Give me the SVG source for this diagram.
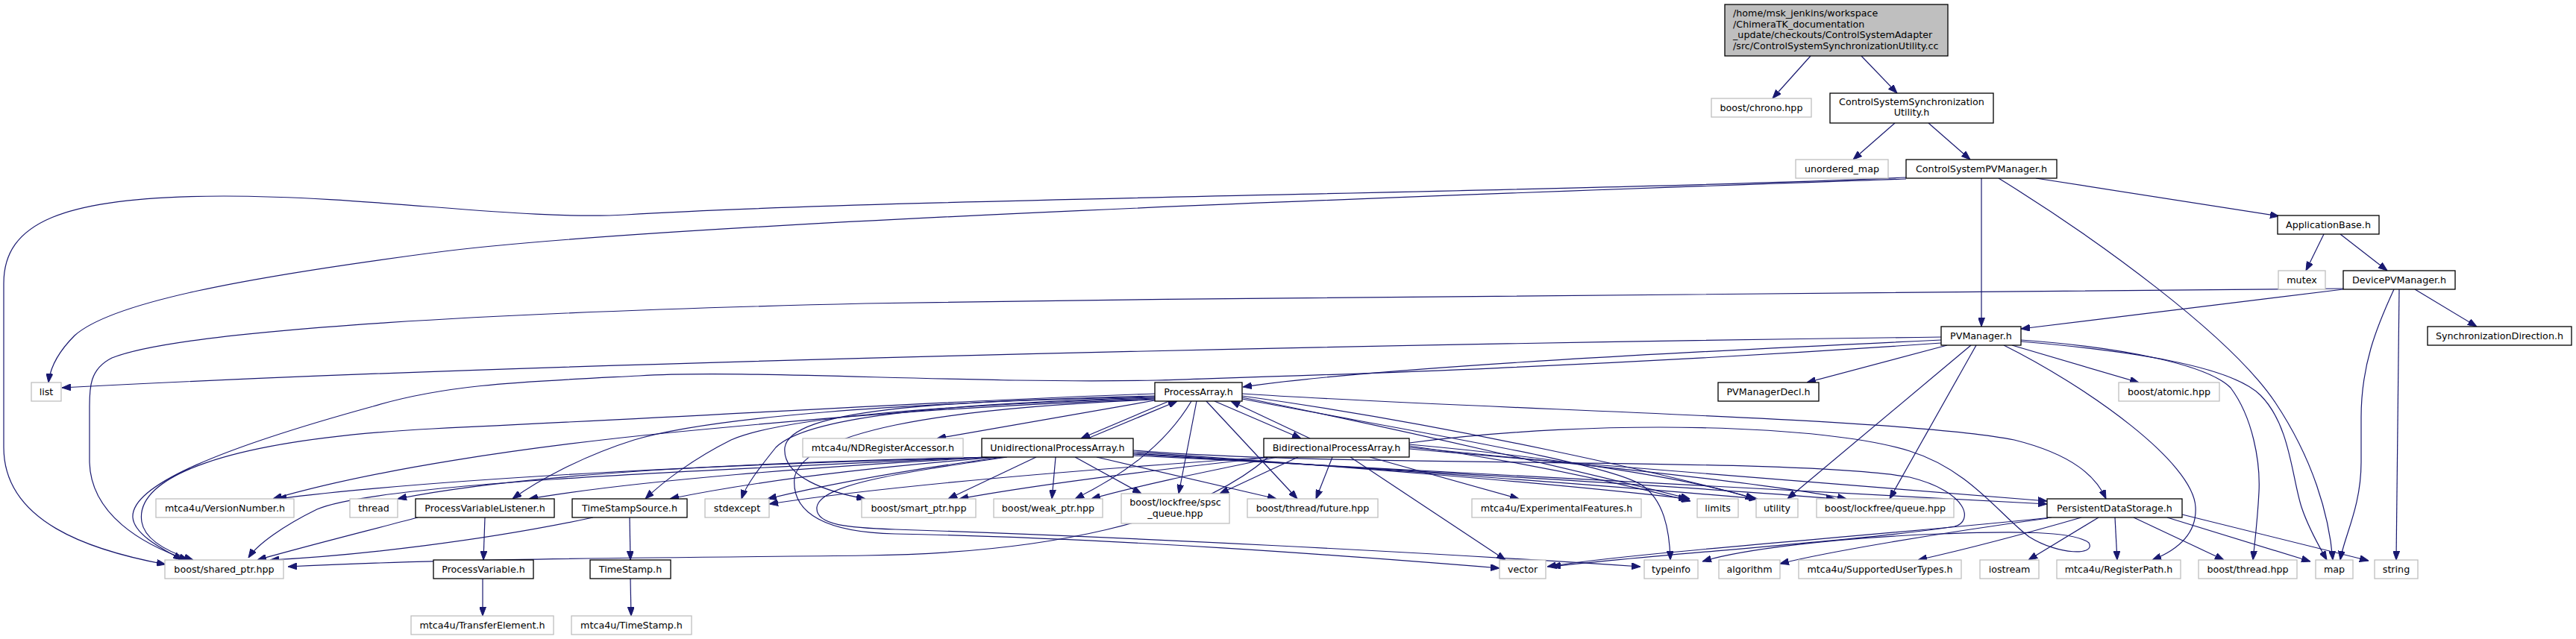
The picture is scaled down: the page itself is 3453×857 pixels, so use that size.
<svg xmlns="http://www.w3.org/2000/svg" width="3453" height="857" viewBox="0 0 3453 857">
<defs>
<marker id="a" viewBox="0 0 12 9" refX="12" refY="4.5" markerWidth="12" markerHeight="9" markerUnits="userSpaceOnUse" orient="auto"><path d="M0,0L12,4.5L0,9z" fill="#191970" stroke="#191970" stroke-width="1"/></marker>
<style>
rect.n{fill:#fff;stroke:#000;stroke-width:1.3}
rect.x{fill:#fff;stroke:#bfbfbf;stroke-width:1.3}
rect.r{fill:#bfbfbf;stroke:#000;stroke-width:1.3}
text{font-family:"DejaVu Sans","Liberation Sans",sans-serif;font-size:12.7px;fill:#000;text-anchor:middle}
text.l{text-anchor:start}
#edges path{fill:none;stroke:#191970;stroke-width:1.2;marker-end:url(#a)}
</style>
</defs>
<rect width="3453" height="857" fill="#fff"/>
<g id="edges">
<path d="M2427,75 L2376,132"/>
<path d="M2495,75 L2543,125"/>
<path d="M2540,165 L2484,214"/>
<path d="M2585,165 L2641,214"/>
<path d="M2656,239 L2656,438"/>
<path d="M2729,239 L3055,290"/>
<path d="M2679,239 C2810,320 2990,450 3050,540 C3100,615 3122,690 3127,751"/>
<path d="M2555,240 C2100,256 900,296 580,339 C330,372 150,405 100,450 C76,474 67,495 65,513"/>
<path d="M2555,238 C2100,258 1200,266 839,288 C700,296 500,263 300,263 C80,263 5,300 5,380 L5,600 C5,700 120,738 222,757"/>
<path d="M3115,314 L3091,363"/>
<path d="M3137,314 L3200,363"/>
<path d="M3237,388 L3320,438"/>
<path d="M3216,388 L3212,751"/>
<path d="M3209,388 C3185,440 3165,490 3165,560 L3165,620 C3165,680 3142,720 3137,751"/>
<path d="M3141,388 L2709,441"/>
<path d="M3141,387 C3000,392 2000,393 1160,407 C700,418 250,440 150,480 C120,495 120,520 120,545 L120,620 C122,690 190,730 252,751"/>
<path d="M2610,463 L2422,513"/>
<path d="M2697,463 L2867,513"/>
<path d="M2642,463 L2396,669"/>
<path d="M2649,463 L2533,669"/>
<path d="M2686,463 C2800,520 2940,620 2943,680 C2945,715 2920,737 2885,751"/>
<path d="M2709,458 C2850,470 2990,490 3030,530 C3070,570 3072,640 3085,680 C3095,710 3110,735 3119,751"/>
<path d="M2709,456 C2850,466 2960,490 2990,520 C3020,560 3030,620 3028,660 C3026,700 3022,730 3020,751"/>
<path d="M2602,456 C2300,470 1850,492 1666,519"/>
<path d="M2602,452 C1800,462 700,487 83,520"/>
<path d="M2602,460 C2100,495 1700,505 1550,510 C1300,515 1000,495 857,504 C700,512 600,515 500,545 C300,600 175,650 178,694 C180,720 230,742 244,751"/>
<path d="M1548,537 L1256,588"/>
<path d="M1567,538 L1449,588"/>
<path d="M1458,588 L1578,538"/>
<path d="M1628,538 L1744,588"/>
<path d="M1756,588 L1650,538"/>
<path d="M1597,538 C1560,600 1500,640 1441,669"/>
<path d="M1604,538 L1580,662"/>
<path d="M1617,538 L1739,669"/>
<path d="M1548,531 C1250,538 1060,550 1052,600 C1048,640 1110,660 1160,669"/>
<path d="M1548,533 C1250,542 1080,560 1040,600 C1020,625 1000,650 994,669"/>
<path d="M1548,534 C1250,544 1050,560 980,590 C930,615 890,645 865,669"/>
<path d="M1548,532 C1200,540 950,560 850,590 C780,612 720,645 687,669"/>
<path d="M1548,535 C1300,545 1160,555 900,580 C700,600 500,630 366,669"/>
<path d="M1548,528 C1300,536 1000,555 580,575 C300,590 180,640 190,700 C195,730 240,745 259,751"/>
<path d="M1665,533 C1900,580 2150,640 2265,669"/>
<path d="M1665,531 C1950,570 2250,640 2353,669"/>
<path d="M1665,528 C2000,550 2550,560 2700,590 C2780,610 2810,640 2823,669"/>
<path d="M1665,535 C1900,580 2150,620 2200,650 C2230,670 2238,710 2239,751"/>
<path d="M1548,536 C1250,548 1080,580 1065,640 C1060,690 1110,714 1200,716 C1500,722 1800,745 2010,762"/>
<path d="M1389,613 L1271,669"/>
<path d="M1415,613 L1410,669"/>
<path d="M1441,613 L1530,662"/>
<path d="M1470,613 L1711,669"/>
<path d="M1330,613 C1000,622 600,640 372,669"/>
<path d="M1328,613 C1000,620 700,635 533,669"/>
<path d="M1335,613 C1100,625 850,645 709,669"/>
<path d="M1340,613 C1150,628 1000,648 898,669"/>
<path d="M1345,613 C1200,632 1100,652 1029,669"/>
<path d="M1325,613 C900,632 500,650 425,683 C380,705 345,730 333,748"/>
<path d="M1350,613 C1200,635 1100,650 1095,680 C1092,705 1140,708 1200,710 C1500,720 1900,740 2199,760"/>
<path d="M1519,606 C1800,625 2100,650 2262,669"/>
<path d="M1519,608 C1850,628 2200,655 2356,669"/>
<path d="M1519,609 C1900,632 2300,655 2460,669"/>
<path d="M1519,611 C2000,634 2500,660 2744,676"/>
<path d="M1519,604 C1800,628 2400,612 2560,640 C2640,660 2645,700 2620,706 C2500,725 2200,745 2080,760"/>
<path d="M1705,613 C1550,630 1400,648 1286,669"/>
<path d="M1712,613 C1620,632 1530,650 1463,669"/>
<path d="M1740,613 L1635,662"/>
<path d="M1786,613 L1764,669"/>
<path d="M1836,613 L2036,669"/>
<path d="M1810,613 L2018,751"/>
<path d="M1700,613 C1450,630 1200,650 1031,676"/>
<path d="M1889,598 C2050,620 2180,650 2266,672"/>
<path d="M1889,596 C2100,615 2280,645 2352,669"/>
<path d="M1889,600 C2150,625 2380,650 2475,669"/>
<path d="M1889,602 C2200,630 2550,655 2744,672"/>
<path d="M1889,594 C2150,560 2450,570 2560,605 C2640,630 2680,690 2720,720 C2760,745 2810,745 2800,728 C2780,712 2700,712 2600,716 C2450,722 2330,738 2282,753"/>
<path d="M1700,613 C1600,700 1400,742 1160,745 C900,748 600,749 386,760"/>
<path d="M650,694 L648,751"/>
<path d="M844,694 L845,751"/>
<path d="M647,776 L647,826"/>
<path d="M845,776 L846,826"/>
<path d="M560,694 C480,715 400,735 345,751"/>
<path d="M795,694 C650,725 480,745 362,751"/>
<path d="M2745,695 C2600,715 2450,740 2386,756"/>
<path d="M2750,694 C2500,720 2200,740 2074,760"/>
<path d="M2790,694 C2700,720 2620,740 2571,751"/>
<path d="M2813,694 L2719,751"/>
<path d="M2835,694 L2838,751"/>
<path d="M2860,694 L2981,751"/>
<path d="M2905,694 L3097,753"/>
<path d="M2925,690 L3175,752"/>
</g>
<g id="root"><rect class="r" x="2312" y="6" width="299" height="69"/><text class="l" x="2323" y="22">/home/msk_jenkins/workspace</text><text class="l" x="2323" y="37">/ChimeraTK_documentation</text><text class="l" x="2323" y="51">_update/checkouts/ControlSystemAdapter</text><text class="l" x="2323" y="66">/src/ControlSystemSynchronizationUtility.cc</text></g>
<g id="n_chrono"><rect class="x" x="2294" y="132" width="134" height="25"/><text x="2361" y="149">boost/chrono.hpp</text></g>
<g id="n_cssu"><rect class="n" x="2453" y="125" width="219" height="40"/><text x="2562.5" y="141">ControlSystemSynchronization</text><text x="2562.5" y="155">Utility.h</text></g>
<g id="n_umap"><rect class="x" x="2407" y="214" width="124" height="25"/><text x="2469" y="231">unordered_map</text></g>
<g id="n_cspvm"><rect class="n" x="2555" y="214" width="202" height="25"/><text x="2656" y="231">ControlSystemPVManager.h</text></g>
<g id="n_appbase"><rect class="n" x="3053" y="289" width="136" height="25"/><text x="3121" y="306">ApplicationBase.h</text></g>
<g id="n_mutex"><rect class="x" x="3054" y="363" width="63" height="25"/><text x="3085.5" y="380">mutex</text></g>
<g id="n_dpvm"><rect class="n" x="3141" y="363" width="150" height="25"/><text x="3216" y="380">DevicePVManager.h</text></g>
<g id="n_syncdir"><rect class="n" x="3254" y="438" width="193" height="25"/><text x="3350.5" y="455">SynchronizationDirection.h</text></g>
<g id="n_pvm"><rect class="n" x="2602" y="438" width="107" height="25"/><text x="2655.5" y="455">PVManager.h</text></g>
<g id="n_pvmdecl"><rect class="n" x="2303" y="513" width="135" height="25"/><text x="2370.5" y="530">PVManagerDecl.h</text></g>
<g id="n_atomic"><rect class="x" x="2840" y="513" width="135" height="25"/><text x="2907.5" y="530">boost/atomic.hpp</text></g>
<g id="n_list"><rect class="x" x="42" y="513" width="40" height="25"/><text x="62" y="530">list</text></g>
<g id="n_pa"><rect class="n" x="1548" y="513" width="117" height="25"/><text x="1606.5" y="530">ProcessArray.h</text></g>
<g id="n_ndra"><rect class="x" x="1076" y="588" width="215" height="25"/><text x="1183.5" y="605">mtca4u/NDRegisterAccessor.h</text></g>
<g id="n_upa"><rect class="n" x="1316" y="588" width="203" height="25"/><text x="1417.5" y="605">UnidirectionalProcessArray.h</text></g>
<g id="n_bpa"><rect class="n" x="1694" y="588" width="195" height="25"/><text x="1791.5" y="605">BidirectionalProcessArray.h</text></g>
<g id="n_vn"><rect class="x" x="209" y="669" width="185" height="25"/><text x="301.5" y="686">mtca4u/VersionNumber.h</text></g>
<g id="n_thread"><rect class="x" x="469" y="669" width="64" height="25"/><text x="501" y="686">thread</text></g>
<g id="n_pvl"><rect class="n" x="557" y="669" width="186" height="25"/><text x="650" y="686">ProcessVariableListener.h</text></g>
<g id="n_tss"><rect class="n" x="767" y="669" width="154" height="25"/><text x="844" y="686">TimeStampSource.h</text></g>
<g id="n_stdexcept"><rect class="x" x="945" y="669" width="86" height="25"/><text x="988" y="686">stdexcept</text></g>
<g id="n_smartptr"><rect class="x" x="1155" y="669" width="153" height="25"/><text x="1231.5" y="686">boost/smart_ptr.hpp</text></g>
<g id="n_weakptr"><rect class="x" x="1332" y="669" width="146" height="25"/><text x="1405" y="686">boost/weak_ptr.hpp</text></g>
<g id="n_spsc"><rect class="x" x="1503" y="662" width="145" height="40"/><text x="1575.5" y="678">boost/lockfree/spsc</text><text x="1575.5" y="693">_queue.hpp</text></g>
<g id="n_future"><rect class="x" x="1672" y="669" width="175" height="25"/><text x="1759.5" y="686">boost/thread/future.hpp</text></g>
<g id="n_expf"><rect class="x" x="1973" y="669" width="227" height="25"/><text x="2086.5" y="686">mtca4u/ExperimentalFeatures.h</text></g>
<g id="n_limits"><rect class="x" x="2275" y="669" width="55" height="25"/><text x="2302.5" y="686">limits</text></g>
<g id="n_utility"><rect class="x" x="2354" y="669" width="56" height="25"/><text x="2382" y="686">utility</text></g>
<g id="n_lfqueue"><rect class="x" x="2435" y="669" width="184" height="25"/><text x="2527" y="686">boost/lockfree/queue.hpp</text></g>
<g id="n_pds"><rect class="n" x="2744" y="669" width="181" height="25"/><text x="2834.5" y="686">PersistentDataStorage.h</text></g>
<g id="n_sharedptr"><rect class="x" x="221" y="751" width="159" height="25"/><text x="300.5" y="768">boost/shared_ptr.hpp</text></g>
<g id="n_pv"><rect class="n" x="581" y="751" width="134" height="25"/><text x="648" y="768">ProcessVariable.h</text></g>
<g id="n_ts"><rect class="n" x="791" y="751" width="108" height="25"/><text x="845" y="768">TimeStamp.h</text></g>
<g id="n_vector"><rect class="x" x="2010" y="751" width="62" height="25"/><text x="2041" y="768">vector</text></g>
<g id="n_typeinfo"><rect class="x" x="2204" y="751" width="72" height="25"/><text x="2240" y="768">typeinfo</text></g>
<g id="n_algorithm"><rect class="x" x="2304" y="751" width="82" height="25"/><text x="2345" y="768">algorithm</text></g>
<g id="n_sut"><rect class="x" x="2411" y="751" width="218" height="25"/><text x="2520" y="768">mtca4u/SupportedUserTypes.h</text></g>
<g id="n_iostream"><rect class="x" x="2654" y="751" width="79" height="25"/><text x="2693.5" y="768">iostream</text></g>
<g id="n_regpath"><rect class="x" x="2757" y="751" width="166" height="25"/><text x="2840" y="768">mtca4u/RegisterPath.h</text></g>
<g id="n_bthread"><rect class="x" x="2947" y="751" width="132" height="25"/><text x="3013" y="768">boost/thread.hpp</text></g>
<g id="n_map"><rect class="x" x="3104" y="751" width="50" height="25"/><text x="3129" y="768">map</text></g>
<g id="n_string"><rect class="x" x="3183" y="751" width="58" height="25"/><text x="3212" y="768">string</text></g>
<g id="n_te"><rect class="x" x="551" y="826" width="191" height="25"/><text x="646.5" y="843">mtca4u/TransferElement.h</text></g>
<g id="n_mts"><rect class="x" x="766" y="826" width="161" height="25"/><text x="846.5" y="843">mtca4u/TimeStamp.h</text></g>
</svg>
